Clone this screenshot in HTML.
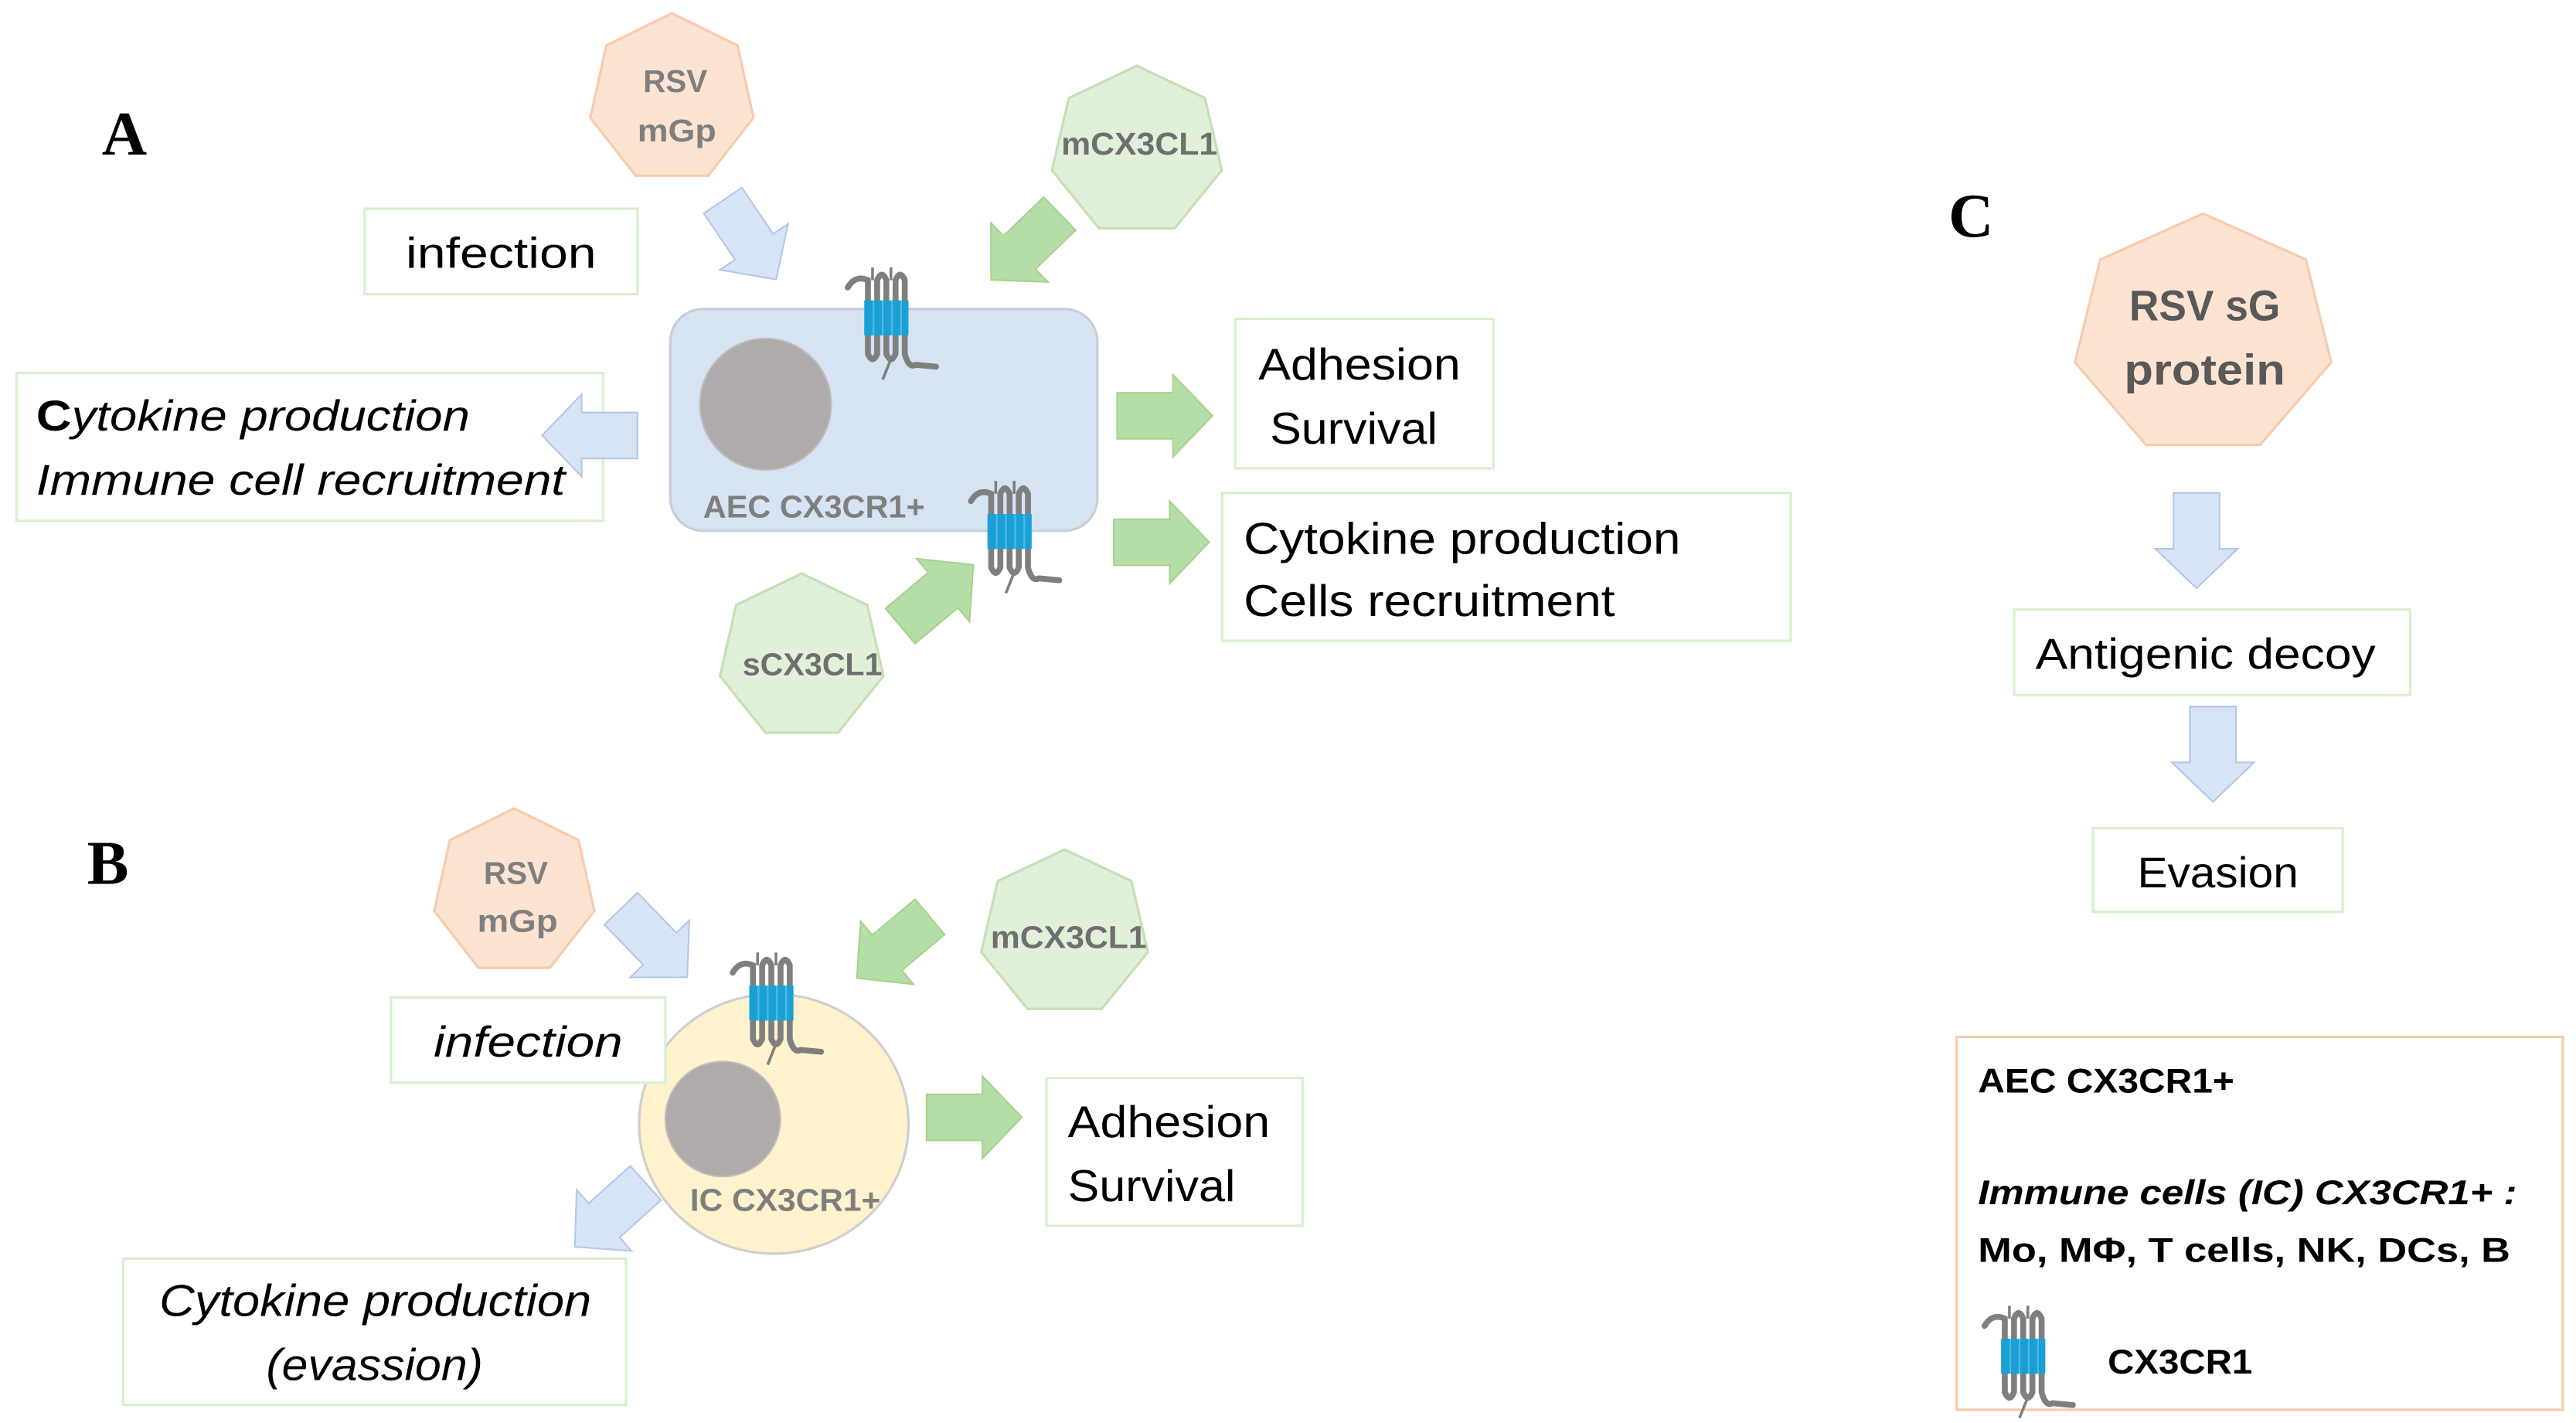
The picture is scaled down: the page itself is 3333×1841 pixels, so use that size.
<!DOCTYPE html>
<html><head><meta charset="utf-8"><style>
html,body{margin:0;padding:0;background:#fff;}
svg{display:block;}
text{font-family:"Liberation Sans",sans-serif;}
</style></head><body>
<svg width="3333" height="1841" viewBox="0 0 1568 866" xmlns="http://www.w3.org/2000/svg">
<defs>
<polygon id="arr" points="0,-14 34,-14 34,-25 58,0 34,25 34,14 0,14"/>
<g id="rec">
<path d="M0,8 Q4,1 11,4 V44 Q13.5,50 16,44 V4 Q18.5,-2 21,4 V44 Q23.5,50 26,44 V4 Q28.5,-2 31,4 V44 Q33,52 37,50 L48,51" fill="none" stroke="#7f7f7f" stroke-width="3.2" stroke-linecap="round"/>
<path d="M13.5,4 V-3 M23.5,4 V-3 M23,48 L19,58" stroke="#7f7f7f" stroke-width="1.5" fill="none"/>
<rect x="9" y="15" width="24" height="19" fill="#19a0d6"/>
<path d="M14,15 V34 M19,15 V34 M24,15 V34 M29,15 V34" stroke="#4fb8e0" stroke-width="1"/>
</g>
</defs>
<rect width="1568" height="866" fill="#fff"/>

<!-- Panel A -->
<text x="62" y="94" font-weight="bold" font-size="38" style="font-family:'Liberation Serif',serif">A</text>
<polygon points="409,8 448.9,27.6 458.7,71.6 431.1,106.9 386.9,106.9 359.3,71.6 369.1,27.6" fill="#fde3d1" stroke="#f8cbad" stroke-width="1.5"/>
<text x="411" y="56" font-size="19" font-weight="bold" fill="#7f7f7f" text-anchor="middle">RSV</text>
<text x="412" y="86" font-size="19" font-weight="bold" fill="#7f7f7f" text-anchor="middle" textLength="48" lengthAdjust="spacingAndGlyphs">mGp</text>
<polygon points="692,40 733.4,59.6 743.7,103.6 715,138.9 669,138.9 640.3,103.6 650.6,59.6" fill="#e0f0d9" stroke="#c5e0b4" stroke-width="1.5"/>
<text x="646" y="94" font-size="19" font-weight="bold" fill="#6f6f6f" textLength="95" lengthAdjust="spacingAndGlyphs">mCX3CL1</text>

<rect x="222" y="127" width="166" height="52" fill="#fff" stroke="#d9efd0" stroke-width="1.5"/>
<text x="247" y="163" font-size="26" textLength="116" lengthAdjust="spacingAndGlyphs">infection</text>

<use href="#arr" transform="translate(440,122) rotate(56)" fill="#d7e4f5" stroke="#b4c7e7" stroke-width="1"/>
<use href="#arr" transform="translate(645,130) rotate(136)" fill="#b5dea6" stroke="#a9d18e" stroke-width="1"/>

<rect x="408" y="188" width="260" height="135" rx="20" fill="#d6e3f3" stroke="#c8cdd8" stroke-width="1.5"/>
<circle cx="466" cy="246" r="40" fill="#afabab" stroke="#c0bcbc"/>
<text x="428" y="315" font-size="19" font-weight="bold" fill="#7f7f7f" textLength="135" lengthAdjust="spacingAndGlyphs">AEC CX3CR1+</text>
<use href="#rec" transform="translate(516,166) scale(1.12)"/>
<use href="#rec" transform="translate(591,296) scale(1.12)"/>

<rect x="10" y="227" width="357" height="90" fill="#fff" stroke="#d9efd0" stroke-width="1.5"/>
<text x="22" y="262" font-size="26" font-style="italic" textLength="264" lengthAdjust="spacingAndGlyphs"><tspan font-style="normal" font-weight="bold">C</tspan>ytokine production</text>
<text x="22" y="301" font-size="26" font-style="italic" textLength="322" lengthAdjust="spacingAndGlyphs">Immune cell recruitment</text>
<use href="#arr" transform="translate(388,265) rotate(180)" fill="#d7e4f5" stroke="#b4c7e7" stroke-width="1"/>

<use href="#arr" transform="translate(680,253)" fill="#b5dea6" stroke="#a9d18e" stroke-width="1"/>
<rect x="752" y="194" width="157" height="91" fill="#fff" stroke="#d9efd0" stroke-width="1.5"/>
<text x="766" y="231" font-size="27" textLength="123" lengthAdjust="spacingAndGlyphs">Adhesion</text>
<text x="773" y="270" font-size="27" textLength="102" lengthAdjust="spacingAndGlyphs">Survival</text>

<use href="#arr" transform="translate(678,330)" fill="#b5dea6" stroke="#a9d18e" stroke-width="1"/>
<rect x="744" y="300" width="346" height="90" fill="#fff" stroke="#d9efd0" stroke-width="1.5"/>
<text x="757" y="337" font-size="27" textLength="266" lengthAdjust="spacingAndGlyphs">Cytokine production</text>
<text x="757" y="375" font-size="27" textLength="226" lengthAdjust="spacingAndGlyphs">Cells recruitment</text>

<polygon points="488,349 527.9,368.2 537.7,411.4 510.1,445.9 465.9,445.9 438.3,411.4 448.1,368.2" fill="#e0f0d9" stroke="#c5e0b4" stroke-width="1.5"/>
<text x="452" y="411" font-size="19" font-weight="bold" fill="#6f6f6f" textLength="85" lengthAdjust="spacingAndGlyphs">sCX3CL1</text>
<use href="#arr" transform="translate(548,381) rotate(-40)" fill="#b5dea6" stroke="#a9d18e" stroke-width="1"/>

<!-- Panel B -->
<text x="53" y="538" font-weight="bold" font-size="38" style="font-family:'Liberation Serif',serif">B</text>
<polygon points="313,492 352.1,511.2 361.8,554.4 334.7,589 291.3,589 264.3,554.4 273.9,511.2" fill="#fde3d1" stroke="#f8cbad" stroke-width="1.5"/>
<text x="314" y="538" font-size="19" font-weight="bold" fill="#7f7f7f" text-anchor="middle">RSV</text>
<text x="315" y="567" font-size="19" font-weight="bold" fill="#7f7f7f" text-anchor="middle" textLength="49" lengthAdjust="spacingAndGlyphs">mGp</text>
<polygon points="648,517 688.7,536.2 698.7,579.4 670.6,614 625.4,614 597.3,579.4 607.3,536.2" fill="#e0f0d9" stroke="#c5e0b4" stroke-width="1.5"/>
<text x="603" y="577" font-size="19" font-weight="bold" fill="#6f6f6f" textLength="95" lengthAdjust="spacingAndGlyphs">mCX3CL1</text>
<use href="#arr" transform="translate(378,553) rotate(46)" fill="#d7e4f5" stroke="#b4c7e7" stroke-width="1"/>
<use href="#arr" transform="translate(566,558) rotate(140)" fill="#b5dea6" stroke="#a9d18e" stroke-width="1"/>

<ellipse cx="471" cy="684" rx="82" ry="79" fill="#fff2cc" stroke="#d0cfcf" stroke-width="1.5"/>
<circle cx="440" cy="681" r="35" fill="#afabab" stroke="#c0bcbc"/>
<text x="420" y="737" font-size="19" font-weight="bold" fill="#7f7f7f" textLength="116" lengthAdjust="spacingAndGlyphs">IC CX3CR1+</text>
<rect x="238" y="607" width="167" height="52" fill="#fff" stroke="#d9efd0" stroke-width="1.5"/>
<text x="264" y="643" font-size="26" font-style="italic" textLength="115" lengthAdjust="spacingAndGlyphs">infection</text>
<use href="#rec" transform="translate(446,583) scale(1.12)"/>

<use href="#arr" transform="translate(393,720) rotate(138)" fill="#d7e4f5" stroke="#b4c7e7" stroke-width="1"/>
<use href="#arr" transform="translate(564,680)" fill="#b5dea6" stroke="#a9d18e" stroke-width="1"/>
<rect x="637" y="656" width="156" height="90" fill="#fff" stroke="#d9efd0" stroke-width="1.5"/>
<text x="650" y="692" font-size="27" textLength="123" lengthAdjust="spacingAndGlyphs">Adhesion</text>
<text x="650" y="731" font-size="27" textLength="102" lengthAdjust="spacingAndGlyphs">Survival</text>

<rect x="75" y="766" width="306" height="89" fill="#fff" stroke="#d9efd0" stroke-width="1.5"/>
<text x="97" y="801" font-size="27" font-style="italic" textLength="263" lengthAdjust="spacingAndGlyphs">Cytokine production</text>
<text x="162" y="840" font-size="27" font-style="italic" textLength="132" lengthAdjust="spacingAndGlyphs">(evassion)</text>

<!-- Panel C -->
<text x="1186" y="144" font-weight="bold" font-size="38" style="font-family:'Liberation Serif',serif">C</text>
<polygon points="1341,130 1403.6,157.9 1419,220.5 1375.7,270.7 1306.3,270.7 1263,220.5 1278.4,157.9" fill="#fde3d1" stroke="#f8cbad" stroke-width="1.5"/>
<text x="1296" y="195" font-size="26" font-weight="bold" fill="#595959" textLength="92" lengthAdjust="spacingAndGlyphs">RSV sG</text>
<text x="1293" y="234" font-size="26" font-weight="bold" fill="#595959" textLength="98" lengthAdjust="spacingAndGlyphs">protein</text>
<use href="#arr" transform="translate(1337,300) rotate(90)" fill="#d7e4f5" stroke="#b4c7e7" stroke-width="1"/>
<rect x="1226" y="371" width="241" height="52" fill="#fff" stroke="#d9efd0" stroke-width="1.5"/>
<text x="1239" y="407" font-size="26" textLength="207" lengthAdjust="spacingAndGlyphs">Antigenic decoy</text>
<use href="#arr" transform="translate(1347,430) rotate(90)" fill="#d7e4f5" stroke="#b4c7e7" stroke-width="1"/>
<rect x="1274" y="504" width="152" height="51" fill="#fff" stroke="#d9efd0" stroke-width="1.5"/>
<text x="1301" y="540" font-size="26" textLength="98" lengthAdjust="spacingAndGlyphs">Evasion</text>

<rect x="1191" y="631" width="369" height="227" fill="#fff" stroke="#f8cbad" stroke-width="1.5"/>
<text x="1204" y="665" font-size="21" font-weight="bold" textLength="156" lengthAdjust="spacingAndGlyphs">AEC CX3CR1+</text>
<text x="1204" y="733" font-size="21" font-weight="bold" font-style="italic" textLength="328" lengthAdjust="spacingAndGlyphs">Immune cells (IC) CX3CR1+ :</text>
<text x="1204" y="768" font-size="21" font-weight="bold" textLength="324" lengthAdjust="spacingAndGlyphs">Mo, MΦ, T cells, NK, DCs, B</text>
<use href="#rec" transform="translate(1208,798) scale(1.12)"/>
<text x="1283" y="836" font-size="21" font-weight="bold" textLength="88" lengthAdjust="spacingAndGlyphs">CX3CR1</text>
</svg>
</body></html>
